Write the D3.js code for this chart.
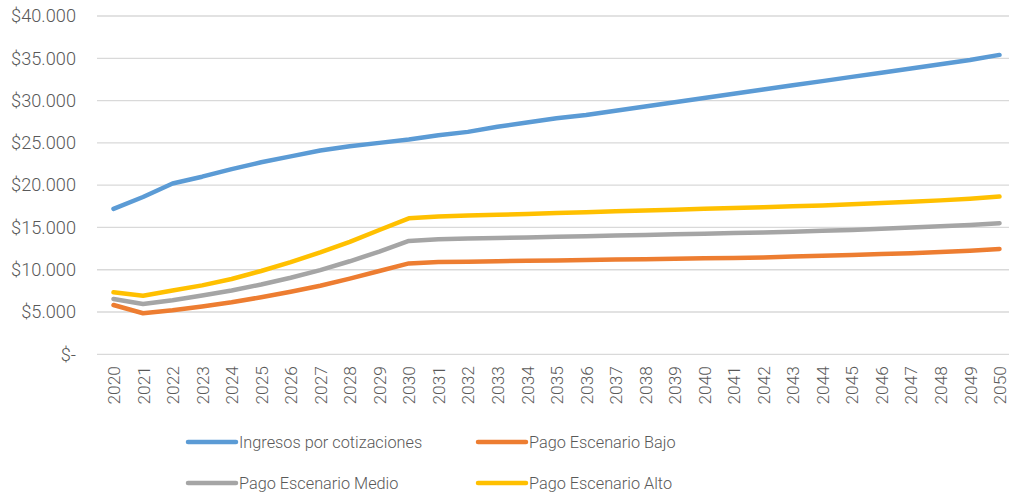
<!DOCTYPE html>
<html>
<head>
<meta charset="utf-8">
<script src="https://cdn.jsdelivr.net/npm/d3@7"></script>
<style>
  body { margin: 0; background: #fff; }
  text { font-family: Roboto, sans-serif; font-weight: 300; fill: #595959; }
</style>
</head>
<body>
<svg id="chart" width="1009" height="496"></svg>
<script>
const years = d3.range(2020, 2051).map(String);

const ingresos = [17200, 18600, 20200, 21000, 21900, 22700, 23400, 24100, 24600, 25000,
  25400, 25900, 26300, 26900, 27400, 27900, 28300, 28800, 29300, 29800,
  30300, 30800, 31300, 31800, 32300, 32800, 33300, 33800, 34300, 34800, 35400];

const bajo = [5830, 4850, 5200, 5650, 6150, 6750, 7400, 8100, 8950, 9850,
  10750, 10900, 10950, 11000, 11050, 11100, 11150, 11200, 11250, 11300,
  11350, 11400, 11450, 11550, 11650, 11750, 11850, 11950, 12100, 12250, 12450];

const medio = [6540, 5950, 6400, 6950, 7550, 8250, 9050, 9950, 11000, 12150,
  13400, 13600, 13700, 13750, 13800, 13900, 13950, 14050, 14100, 14200,
  14250, 14350, 14400, 14500, 14600, 14700, 14850, 15000, 15150, 15300, 15500];

const alto = [7330, 6930, 7550, 8150, 8900, 9850, 10900, 12050, 13300, 14700,
  16080, 16300, 16400, 16500, 16600, 16700, 16800, 16900, 17000, 17100,
  17200, 17300, 17400, 17500, 17600, 17750, 17900, 18050, 18200, 18400, 18650];

const seriesNames = ["Ingresos por cotizaciones", "Pago Escenario Bajo", "Pago Escenario Medio", "Pago Escenario Alto"];
const seriesValues = [ingresos, bajo, medio, alto];
const colors = ["#5B9BD5", "#ED7D31", "#A5A5A5", "#FFC000"];
const yTicks = d3.range(0, 40001, 5000);

let svg = d3.select("#chart");

let x = d3.scalePoint()
    .domain(years)
    .range([113.5, 999.5]);

let y = d3.scaleLinear()
    .domain([0, 40000])
    .range([354.3, 16]);

let loc = d3.formatLocale({decimal: ",", thousands: ".", grouping: [3], currency: ["$", ""]});
let fmt = loc.format("$,");

//gridlines
svg.append("g")
    .selectAll("line")
    .data(yTicks)
    .enter().append("line")
    .attr("x1", 97)
    .attr("x2", 1009)
    .attr("y1", d => y(d))
    .attr("y2", d => y(d))
    .attr("stroke", "#d9d9d9")
    .attr("stroke-width", 1.3);

//y axis
let yAxis = d3.axisLeft(y)
    .tickValues(yTicks)
    .tickSize(0)
    .tickPadding(0)
    .tickFormat(d => d == 0 ? "$-" : fmt(d));
let yg = svg.append("g")
    .attr("transform", "translate(76,0)")
    .call(yAxis);
yg.select(".domain").remove();
yg.selectAll("text")
    .attr("font-size", 18.2)
    .attr("font-family", "Roboto, sans-serif")
    .attr("fill", "#595959");

//x axis
let xAxis = d3.axisBottom(x).tickSize(0);
let xg = svg.append("g")
    .attr("transform", "translate(0,366)")
    .call(xAxis);
xg.select(".domain").remove();
xg.selectAll("text")
    .attr("font-size", 17.4)
    .attr("font-family", "Roboto, sans-serif")
    .attr("fill", "#595959")
    .attr("text-anchor", "end")
    .attr("dy", "0.35em")
    .attr("y", 0)
    .attr("transform", "rotate(-90)");

//lines
let line = d3.line()
    .x((d, i) => x(years[i]))
    .y(d => y(d));

svg.append("g")
    .selectAll("path")
    .data(seriesValues)
    .enter().append("path")
    .attr("fill", "none")
    .attr("stroke", (d, i) => colors[i])
    .attr("stroke-width", 4.5)
    .attr("stroke-linecap", "round")
    .attr("stroke-linejoin", "round")
    .attr("d", d => line(d));

//legend
let legendPos = [[188, 442], [478, 442], [188, 483], [478, 483]];
let legend = svg.append("g")
    .selectAll("g")
    .data(seriesNames)
    .enter().append("g")
    .attr("transform", (d, i) => "translate(" + legendPos[i][0] + "," + legendPos[i][1] + ")");
legend.append("line")
    .attr("x1", 0)
    .attr("x2", 48)
    .attr("stroke", (d, i) => colors[i])
    .attr("stroke-width", 4.5)
    .attr("stroke-linecap", "round");
legend.append("text")
    .attr("x", 51)
    .attr("dy", "0.35em")
    .attr("font-size", 16.3)
    .text(d => d);
</script>
</body>
</html>
